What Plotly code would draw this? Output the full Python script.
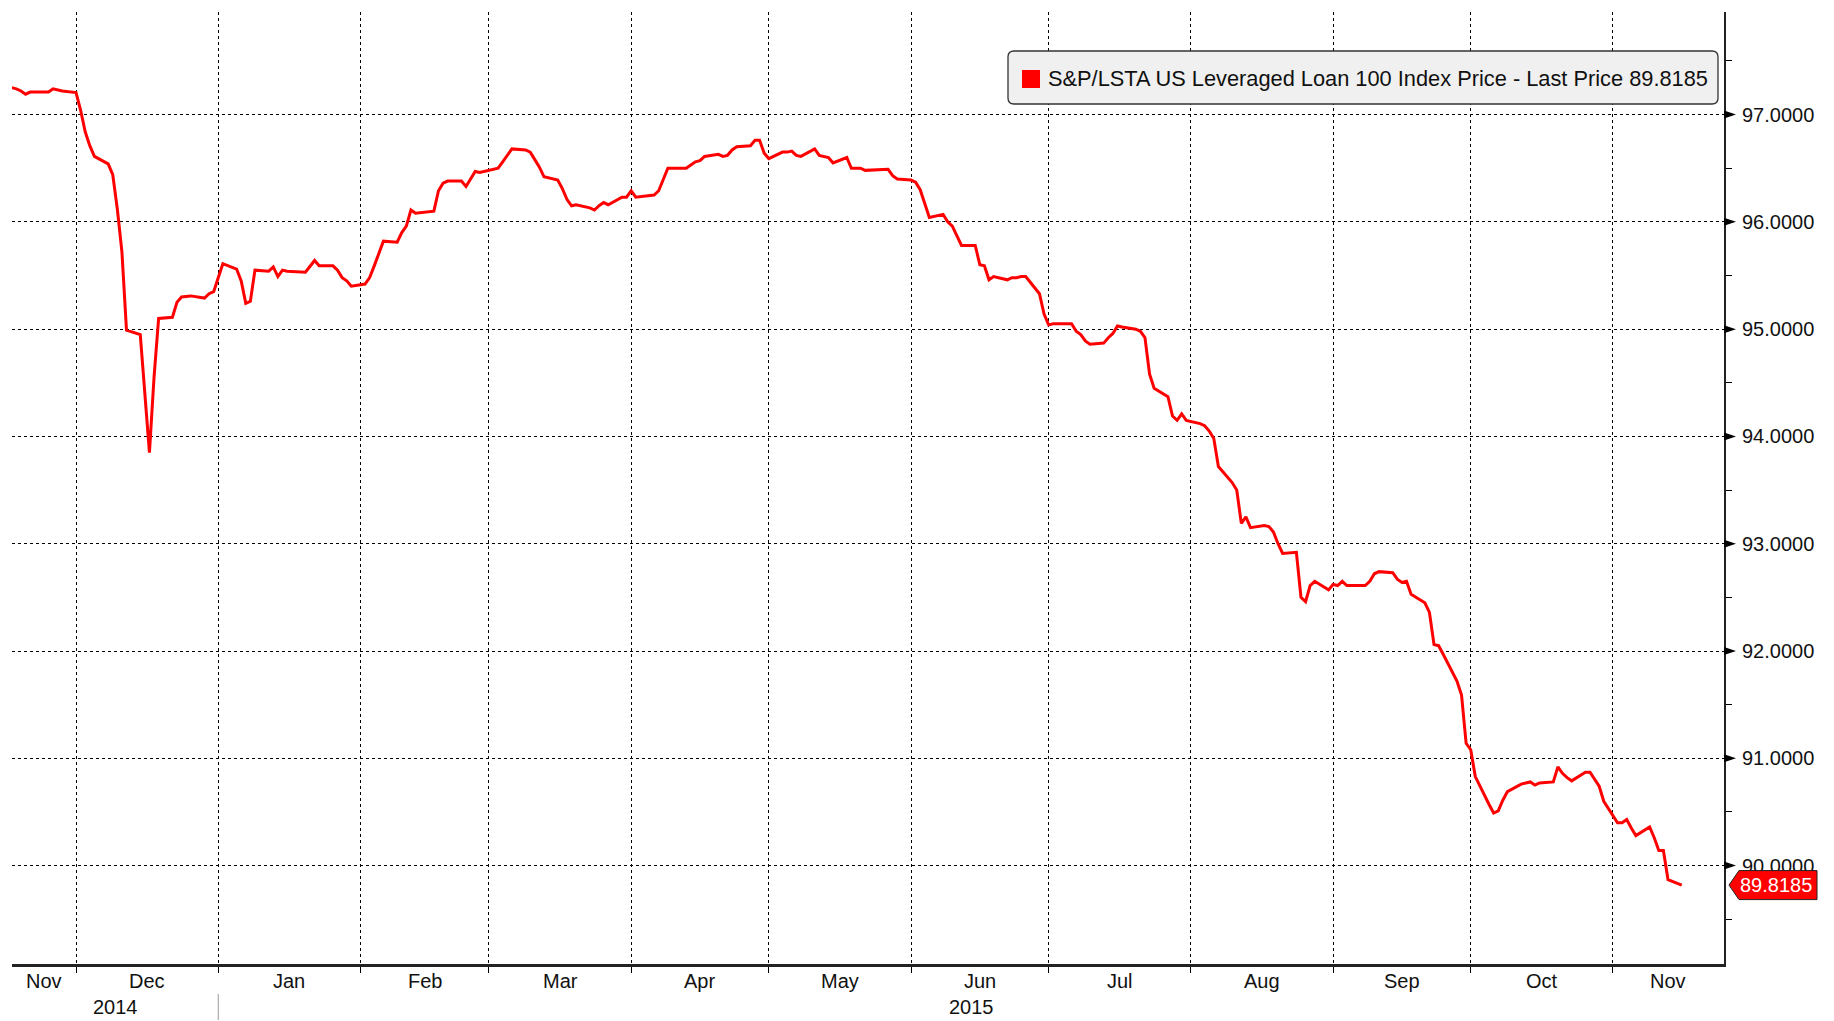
import pandas as pd
import plotly.graph_objects as go

# ---------------- data ----------------
dates = [
    "2014-11-17", "2014-11-18", "2014-11-19", "2014-11-20", "2014-11-21", "2014-11-24", "2014-11-25",
    "2014-11-26", "2014-11-28", "2014-12-01", "2014-12-02", "2014-12-03", "2014-12-04", "2014-12-05",
    "2014-12-08", "2014-12-09", "2014-12-10", "2014-12-11", "2014-12-12", "2014-12-15", "2014-12-16",
    "2014-12-17", "2014-12-18", "2014-12-19", "2014-12-22", "2014-12-23", "2014-12-24", "2014-12-26",
    "2014-12-29", "2014-12-30", "2014-12-31",
    "2015-01-02", "2015-01-05", "2015-01-06", "2015-01-07", "2015-01-08", "2015-01-09", "2015-01-12",
    "2015-01-13", "2015-01-14", "2015-01-15", "2015-01-16", "2015-01-20", "2015-01-21", "2015-01-22",
    "2015-01-23", "2015-01-26", "2015-01-27", "2015-01-28", "2015-01-29", "2015-01-30",
    "2015-02-02", "2015-02-03", "2015-02-04", "2015-02-05", "2015-02-06", "2015-02-09", "2015-02-10",
    "2015-02-11", "2015-02-12", "2015-02-13", "2015-02-17", "2015-02-18", "2015-02-19", "2015-02-20",
    "2015-02-23", "2015-02-24", "2015-02-25", "2015-02-26", "2015-02-27",
    "2015-03-02", "2015-03-03", "2015-03-04", "2015-03-05", "2015-03-06", "2015-03-09", "2015-03-10",
    "2015-03-11", "2015-03-12", "2015-03-13", "2015-03-16", "2015-03-17", "2015-03-18", "2015-03-19",
    "2015-03-20", "2015-03-23", "2015-03-24", "2015-03-25", "2015-03-26", "2015-03-27", "2015-03-30",
    "2015-03-31",
    "2015-04-01", "2015-04-02", "2015-04-06", "2015-04-07", "2015-04-08", "2015-04-09", "2015-04-10",
    "2015-04-13", "2015-04-14", "2015-04-15", "2015-04-16", "2015-04-17", "2015-04-20", "2015-04-21",
    "2015-04-22", "2015-04-23", "2015-04-24", "2015-04-27", "2015-04-28", "2015-04-29", "2015-04-30",
    "2015-05-01", "2015-05-04", "2015-05-05", "2015-05-06", "2015-05-07", "2015-05-08", "2015-05-11",
    "2015-05-12", "2015-05-13", "2015-05-14", "2015-05-15", "2015-05-18", "2015-05-19", "2015-05-20",
    "2015-05-21", "2015-05-22", "2015-05-26", "2015-05-27", "2015-05-28", "2015-05-29",
    "2015-06-01", "2015-06-02", "2015-06-03", "2015-06-04", "2015-06-05", "2015-06-08", "2015-06-09",
    "2015-06-10", "2015-06-11", "2015-06-12", "2015-06-15", "2015-06-16", "2015-06-17", "2015-06-18",
    "2015-06-19", "2015-06-22", "2015-06-23", "2015-06-24", "2015-06-25", "2015-06-26", "2015-06-29",
    "2015-06-30",
    "2015-07-01", "2015-07-02", "2015-07-06", "2015-07-07", "2015-07-08", "2015-07-09", "2015-07-10",
    "2015-07-13", "2015-07-14", "2015-07-15", "2015-07-16", "2015-07-17", "2015-07-20", "2015-07-21",
    "2015-07-22", "2015-07-23", "2015-07-24", "2015-07-27", "2015-07-28", "2015-07-29", "2015-07-30",
    "2015-07-31",
    "2015-08-03", "2015-08-04", "2015-08-05", "2015-08-06", "2015-08-07", "2015-08-10", "2015-08-11",
    "2015-08-12", "2015-08-13", "2015-08-14", "2015-08-17", "2015-08-18", "2015-08-19", "2015-08-20",
    "2015-08-21", "2015-08-24", "2015-08-25", "2015-08-26", "2015-08-27", "2015-08-28", "2015-08-31",
    "2015-09-01", "2015-09-02", "2015-09-03", "2015-09-04", "2015-09-08", "2015-09-09", "2015-09-10",
    "2015-09-11", "2015-09-14", "2015-09-15", "2015-09-16", "2015-09-17", "2015-09-18", "2015-09-21",
    "2015-09-22", "2015-09-23", "2015-09-24", "2015-09-25", "2015-09-28", "2015-09-29", "2015-09-30",
    "2015-10-01", "2015-10-02", "2015-10-05", "2015-10-06", "2015-10-07", "2015-10-08", "2015-10-09",
    "2015-10-12", "2015-10-13", "2015-10-14", "2015-10-15", "2015-10-16", "2015-10-19", "2015-10-20",
    "2015-10-21", "2015-10-22", "2015-10-23", "2015-10-26", "2015-10-27", "2015-10-28", "2015-10-29",
    "2015-10-30",
    "2015-11-02", "2015-11-03", "2015-11-04", "2015-11-05", "2015-11-06", "2015-11-09", "2015-11-10",
    "2015-11-11", "2015-11-12", "2015-11-13", "2015-11-16",
]

prices = [
    97.25, 97.24, 97.22, 97.19, 97.21, 97.21, 97.21,
    97.24, 97.22, 97.205, 97.04, 96.84, 96.71, 96.61,
    96.54, 96.44, 96.12, 95.72, 94.99, 94.95, 94.40,
    93.85, 94.55, 95.10, 95.11, 95.25, 95.30, 95.31,
    95.29, 95.33, 95.35,
    95.61, 95.56, 95.45, 95.24, 95.26, 95.55, 95.54,
    95.58, 95.49, 95.55, 95.54, 95.53, 95.58, 95.64,
    95.59, 95.59, 95.55, 95.48, 95.45, 95.40,
    95.42, 95.48, 95.59, 95.70, 95.82, 95.81, 95.90,
    95.96, 96.11, 96.08, 96.10, 96.29, 96.36, 96.38,
    96.38, 96.33, 96.40, 96.47, 96.46,
    96.49, 96.50, 96.56, 96.62, 96.68, 96.67, 96.65,
    96.58, 96.51, 96.42, 96.39, 96.31, 96.21, 96.15,
    96.16, 96.13, 96.11, 96.15, 96.18, 96.16, 96.23,
    96.23,
    96.29, 96.23, 96.25, 96.29, 96.40, 96.50, 96.50,
    96.50, 96.53, 96.56, 96.57, 96.61, 96.63, 96.61,
    96.62, 96.67, 96.70, 96.71, 96.76, 96.76, 96.64,
    96.59, 96.65, 96.65, 96.66, 96.62, 96.61, 96.68,
    96.62, 96.61, 96.60, 96.55, 96.60, 96.50, 96.50,
    96.50, 96.48, 96.49, 96.49, 96.43, 96.40,
    96.39, 96.37, 96.30, 96.16, 96.04, 96.07, 96.00,
    95.96, 95.87, 95.78, 95.78, 95.60, 95.59, 95.46,
    95.49, 95.46, 95.48, 95.48, 95.49, 95.49, 95.33,
    95.14,
    95.04, 95.05, 95.05, 94.98, 94.95, 94.89, 94.86,
    94.87, 94.92, 94.96, 95.03, 95.02, 95.00, 94.98,
    94.92, 94.58, 94.45, 94.37, 94.19, 94.15, 94.21,
    94.15,
    94.12, 94.10, 94.05, 93.98, 93.72, 93.57, 93.50,
    93.19, 93.25, 93.15, 93.17, 93.16, 93.11, 93.00,
    92.91, 92.92, 92.50, 92.46, 92.61, 92.65, 92.57,
    92.62, 92.61, 92.65, 92.61, 92.61, 92.65, 92.72,
    92.74, 92.73, 92.67, 92.64, 92.65, 92.53, 92.45,
    92.36, 92.06, 92.05, 91.97, 91.72, 91.59, 91.14,
    91.08, 90.83, 90.57, 90.49, 90.51, 90.61, 90.69,
    90.76, 90.77, 90.78, 90.75, 90.77, 90.78, 90.92,
    90.86, 90.82, 90.79, 90.87, 90.87, 90.81, 90.74,
    90.60,
    90.40, 90.40, 90.43, 90.35, 90.28, 90.36, 90.26,
    90.14, 90.14, 89.87, 89.8185,
]

last_price = 89.8185
series_name = "S&P/LSTA US Leveraged Loan 100 Index Price - Last Price"
y_tick_values = [90, 91, 92, 93, 94, 95, 96, 97]
x_range = ["2014-11-17 01:00", "2015-11-25 05:00"]
y_range = [89.083, 97.956]
month_starts = ["2014-11-01", "2014-12-01", "2015-01-01", "2015-02-01", "2015-03-01", "2015-04-01",
                "2015-05-01", "2015-06-01", "2015-07-01", "2015-08-01", "2015-09-01", "2015-10-01",
                "2015-11-01", "2015-12-01"]
month_names = ["Nov", "Dec", "Jan", "Feb", "Mar", "Apr", "May", "Jun", "Jul", "Aug", "Sep", "Oct", "Nov"]
year_labels = ["2014", "2015"]
year_bounds = [("2014-01-01", "2015-01-01"), ("2015-01-01", "2016-01-01")]

# ---------------- figure ----------------
FONT = "Liberation Sans"
RED = "#ff0000"
TXT = "#111111"

fig = go.Figure()
fig.add_trace(go.Scatter(
    x=pd.to_datetime(dates), y=prices, mode="lines",
    line=dict(color=RED, width=3), name=series_name, showlegend=False,
    hoverinfo="x+y",
))

xmin, xmax = pd.Timestamp(x_range[0]), pd.Timestamp(x_range[1])

annotations = []
# month labels centred in the visible part of each month
for i, name in enumerate(month_names):
    s = max(pd.Timestamp(month_starts[i]), xmin)
    e = min(pd.Timestamp(month_starts[i + 1]), xmax)
    mid = s + (e - s) / 2
    annotations.append(dict(x=mid, xref="x", y=0, yref="paper", yshift=-17, yanchor="middle",
                            text=name, showarrow=False, font=dict(family=FONT, size=20, color=TXT)))
# year labels
for lab, (s, e) in zip(year_labels, year_bounds):
    s = max(pd.Timestamp(s), xmin)
    e = min(pd.Timestamp(e), xmax)
    mid = s + (e - s) / 2
    annotations.append(dict(x=mid, xref="x", y=0, yref="paper", yshift=-43, yanchor="middle",
                            text=lab, showarrow=False, font=dict(family=FONT, size=20, color=TXT)))

# legend text
annotations.append(dict(x=1, xref="paper", xshift=-678, xanchor="left",
                        y=1, yref="paper", yshift=-66, yanchor="middle",
                        text=f"{series_name} {last_price:.4f}", showarrow=False,
                        font=dict(family=FONT, size=21.8, color=TXT)))
# last price tag text
annotations.append(dict(x=1, xref="paper", xshift=52, xanchor="center",
                        y=last_price, yref="y", yanchor="middle",
                        text=f"{last_price:.4f}", showarrow=False,
                        font=dict(family=FONT, size=20, color="white")))

shapes = []
# legend box (rounded) in pixels relative to the plot's top-right corner
x0, x1, y0, y1, r = -716, -6, -39, -92, 6
legend_path = (f"M {x0+r} {y0} L {x1-r} {y0} Q {x1} {y0} {x1} {y0-r} L {x1} {y1+r} "
               f"Q {x1} {y1} {x1-r} {y1} L {x0+r} {y1} Q {x0} {y1} {x0} {y1+r} "
               f"L {x0} {y0-r} Q {x0} {y0} {x0+r} {y0} Z")
shapes.append(dict(type="path", path=legend_path, xref="paper", yref="paper",
                   xsizemode="pixel", ysizemode="pixel", xanchor=1, yanchor=1,
                   fillcolor="#f0f0f0", line=dict(color="#333", width=1.3), layer="above"))
shapes.append(dict(type="rect", xref="paper", yref="paper", xsizemode="pixel", ysizemode="pixel",
                   xanchor=1, yanchor=1, x0=-702, x1=-684, y0=-58, y1=-76,
                   fillcolor=RED, line=dict(width=0), layer="above"))
# triangle markers on major y ticks
for v in y_tick_values:
    shapes.append(dict(type="path", path="M 0 4 L 12 0 L 0 -4 Z", xref="paper", yref="y",
                       xsizemode="pixel", ysizemode="pixel", xanchor=1, yanchor=v,
                       fillcolor="black", line=dict(width=0), layer="above"))
# last price tag
shapes.append(dict(type="path", path="M 5 0 L 15 14.5 L 93 14.5 L 93 -14.5 L 15 -14.5 Z",
                   xref="paper", yref="y", xsizemode="pixel", ysizemode="pixel",
                   xanchor=1, yanchor=last_price, fillcolor=RED,
                   line=dict(color="#222", width=1), layer="above"))
# year separator below the axis
shapes.append(dict(type="line", xref="x", yref="paper", ysizemode="pixel", yanchor=0,
                   x0="2015-01-01", x1="2015-01-01", y0=-30, y1=-56,
                   line=dict(color="#999", width=1)))

# the page body has an 8px margin: size the figure so it fits the 1834x1021 window
fig.update_layout(
    width=1826, height=1013,
    margin=dict(l=4, r=110, t=4, b=57),
    paper_bgcolor="white", plot_bgcolor="white",
    showlegend=False,
    annotations=annotations, shapes=shapes,
    font=dict(family=FONT, size=20, color=TXT),
    xaxis=dict(
        type="date", range=x_range,
        tick0="2014-12-01", dtick="M1",
        showticklabels=False, ticks="outside", ticklen=6, tickcolor="black", tickwidth=1,
        showgrid=True, gridcolor="black", gridwidth=1.4, griddash="3px,3px",
        showline=True, linecolor="#222", linewidth=2.5,
        zeroline=False,
    ),
    yaxis=dict(
        side="right", range=y_range,
        tickvals=y_tick_values, tickformat=".4f",
        ticks="outside", ticklen=12, tickcolor="rgba(0,0,0,0)",
        minor=dict(dtick=0.5, tick0=0.5, ticks="outside", ticklen=6, tickcolor="black", tickwidth=1,
                   showgrid=False),
        showgrid=True, gridcolor="black", gridwidth=1.4, griddash="3px,3px",
        showline=True, linecolor="#222", linewidth=2,
        zeroline=False,
        tickfont=dict(family=FONT, size=20, color=TXT),
    ),
)

fig.write_html("out.html")
